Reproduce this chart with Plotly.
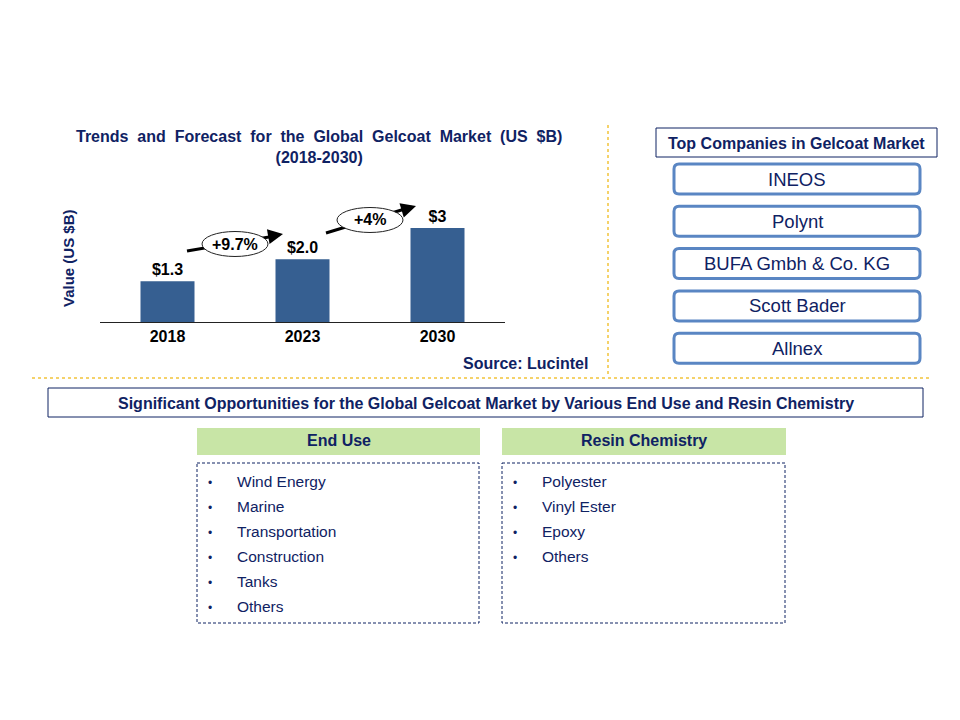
import plotly.graph_objects as go

# ------------------------------------------------------------------ #
#  DATA                                                                #
# ------------------------------------------------------------------ #
years = ["2018", "2023", "2030"]
market_value = [1.3, 2.0, 3.0]
value_labels = ["$1.3", "$2.0", "$3"]
growth_labels = ["+9.7%", "+4%"]

companies = ["INEOS", "Polynt", "BUFA Gmbh & Co. KG", "Scott Bader", "Allnex"]
end_use = ["Wind Energy", "Marine", "Transportation", "Construction", "Tanks", "Others"]
resin_chemistry = ["Polyester", "Vinyl Ester", "Epoxy", "Others"]

NAVY = "#0f2263"
BAR = "#365f91"
GOLD = "#f2c33a"
STEEL = "#5a86c3"
GREEN = "#c8e5a6"
FONT = "Liberation Sans, Arial, sans-serif"

# the page body adds an 8px margin, so the figure is a bit smaller and
# every layout position (given in screen pixels) is shifted back by it
OFF = 8
W, H = 960 - OFF, 720 - OFF


def px(x):
    return (x - OFF) / W


def py(y):
    return 1 - (y - OFF) / H


def label(x, y, text, size, color=NAVY, **kw):
    d = dict(x=px(x), y=py(y), xref="paper", yref="paper", showarrow=False,
             xanchor="center", yanchor="middle", text=text,
             font=dict(family=FONT, size=size, color=color))
    d.update(kw)
    return d


fig = go.Figure()

fig.add_trace(go.Bar(
    x=years, y=market_value,
    marker=dict(color=BAR, line=dict(width=0)),
    text=value_labels, texttemplate="<b>%{text}</b>", textposition="outside",
    textfont=dict(family=FONT, size=16, color="black"),
    cliponaxis=False,
    hoverinfo="skip",
))

shapes = []
annotations = []

# chart title + axis label
annotations.append(label(
    319, 147,
    "<b>Trends  and  Forecast  for  the  Global  Gelcoat  Market  (US  $B)<br>(2018-2030)</b>",
    16, align="center"))
annotations.append(label(68, 258, "<b>Value (US $B)</b>", 15, textangle=-90))
annotations.append(label(590, 363, "<b>Source: Lucintel</b>", 16, xanchor="right"))

# growth arrows with CAGR ellipses
arrows = [((187, 251), (283, 234), (235, 244), 66, 25),
          ((326, 233), (416, 206), (370, 220), 66, 25)]
for (tail, head, centre, ew, eh), lbl in zip(arrows, growth_labels):
    shapes.append(dict(type="line", xref="paper", yref="paper",
                       x0=px(tail[0]), y0=py(tail[1]), x1=px(head[0] - 8), y1=py(head[1] + 2),
                       line=dict(color="black", width=3)))
    shapes.append(dict(type="circle", xref="paper", yref="paper",
                       x0=px(centre[0] - ew / 2), x1=px(centre[0] + ew / 2),
                       y0=py(centre[1] - eh / 2), y1=py(centre[1] + eh / 2),
                       fillcolor="white", line=dict(color="#222222", width=1)))
    dx, dy = head[0] - tail[0], head[1] - tail[1]
    n = (dx ** 2 + dy ** 2) ** 0.5
    annotations.append(dict(
        x=px(head[0]), y=py(head[1]), xref="paper", yref="paper",
        ax=-dx / n * 14, ay=-dy / n * 14, axref="pixel", ayref="pixel",
        showarrow=True, arrowhead=2, arrowsize=1, arrowwidth=3, arrowcolor="black", text="",
    ))
    annotations.append(label(centre[0], centre[1], f"<b>{lbl}</b>", 16, color="black"))

# dotted dividers
shapes.append(dict(type="line", xref="paper", yref="paper",
                   x0=px(608), x1=px(608), y0=py(125), y1=py(376),
                   line=dict(color=GOLD, width=1.5, dash="dot")))
shapes.append(dict(type="line", xref="paper", yref="paper",
                   x0=px(32), x1=px(930), y0=py(378), y1=py(378),
                   line=dict(color=GOLD, width=1.5, dash="dot")))

# top companies panel
shapes.append(dict(type="rect", xref="paper", yref="paper",
                   x0=px(656), x1=px(937), y0=py(128), y1=py(157),
                   line=dict(color=NAVY, width=1), fillcolor="white"))
annotations.append(label(796, 143, "<b>Top Companies in Gelcoat Market</b>", 16))


def rounded(x0, y0, x1, y1, r):
    X, Y = px, py
    return (f"M {X(x0 + r)} {Y(y0)} L {X(x1 - r)} {Y(y0)} Q {X(x1)} {Y(y0)} {X(x1)} {Y(y0 + r)} "
            f"L {X(x1)} {Y(y1 - r)} Q {X(x1)} {Y(y1)} {X(x1 - r)} {Y(y1)} "
            f"L {X(x0 + r)} {Y(y1)} Q {X(x0)} {Y(y1)} {X(x0)} {Y(y1 - r)} "
            f"L {X(x0)} {Y(y0 + r)} Q {X(x0)} {Y(y0)} {X(x0 + r)} {Y(y0)} Z")


for i, name in enumerate(companies):
    top = 164 + i * 42.3
    shapes.append(dict(type="path", xref="paper", yref="paper",
                       path=rounded(674, top, 920, top + 30, 5),
                       line=dict(color=STEEL, width=3), fillcolor="white"))
    annotations.append(label(797, top + 15, name, 18.5))

# opportunities section
shapes.append(dict(type="rect", xref="paper", yref="paper",
                   x0=px(48), x1=px(923), y0=py(388), y1=py(417),
                   line=dict(color=NAVY, width=1), fillcolor="white"))
annotations.append(label(
    486, 403,
    "<b>Significant Opportunities for the Global Gelcoat Market by Various End Use and Resin Chemistry</b>",
    16))

columns = [("End Use", end_use, 197, 480), ("Resin Chemistry", resin_chemistry, 502, 786)]
for title, items, x0, x1 in columns:
    shapes.append(dict(type="rect", xref="paper", yref="paper",
                       x0=px(x0), x1=px(x1), y0=py(428), y1=py(455),
                       line=dict(width=0), fillcolor=GREEN))
    annotations.append(label((x0 + x1) / 2, 441, f"<b>{title}</b>", 16))
    shapes.append(dict(type="rect", xref="paper", yref="paper",
                       x0=px(x0), x1=px(x1 - 1), y0=py(463), y1=py(623),
                       line=dict(color=NAVY, width=1, dash="3px,2px"), fillcolor="rgba(0,0,0,0)"))
    for j, item in enumerate(items):
        yy = 481 + j * 25
        annotations.append(label(x0 + 13, yy + 2, "•", 12))
        annotations.append(label(x0 + 38, yy, item, 15.5, xanchor="left"))

fig.update_layout(
    width=W, height=H,
    margin=dict(l=0, r=0, t=0, b=0),
    paper_bgcolor="white", plot_bgcolor="white",
    showlegend=False,
    bargap=0.6,
    xaxis=dict(domain=[px(100), px(505)], showline=True, linecolor="#222222", linewidth=1,
               ticks="", showgrid=False, zeroline=False, fixedrange=True,
               tickfont=dict(family=FONT, size=16, color="black"),
               tickprefix="<b>", ticksuffix="</b>"),
    yaxis=dict(domain=[py(322), py(190)], range=[0, 4.21], visible=False, fixedrange=True),
    shapes=shapes,
    annotations=annotations,
)

fig.write_html("out.html")
